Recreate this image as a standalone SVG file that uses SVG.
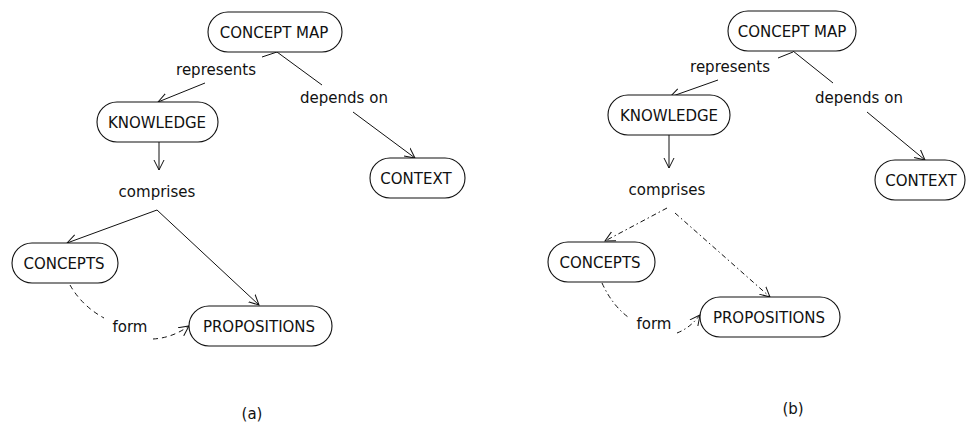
<svg xmlns="http://www.w3.org/2000/svg" width="966" height="428" viewBox="0 0 966 428">
<style>
.node rect{fill:#fff;stroke:#111;stroke-width:1.1}
text{font-family:"DejaVu Sans","Liberation Sans",sans-serif;font-size:15px;fill:#111;text-anchor:middle}
.c path{fill:none;stroke:#111;stroke-width:1}
.c .dash{stroke-dasharray:5,4}
.c .dd{stroke-dasharray:5,3,1.5,3}
</style>
<defs>
<marker id="ah" markerUnits="userSpaceOnUse" markerWidth="12" markerHeight="12" refX="10" refY="5" orient="auto" viewBox="0 0 12 10">
<path d="M0,0 L10,5 L0,10" fill="none" stroke="#111" stroke-width="1"/>
</marker>
</defs>
<rect width="966" height="428" fill="#fff"/>
<g class="c" id="connectors">
<path d="M262,57 L277,52"/>
<path d="M205,83 L158,102" marker-end="url(#ah)"/>
<path d="M277,52 L322,85"/>
<path d="M353,112 L415,158" marker-end="url(#ah)"/>
<path d="M159,142 L159,170" marker-end="url(#ah)"/>
<path d="M157,210 L67,243" marker-end="url(#ah)"/>
<path d="M157,210 L259,305" marker-end="url(#ah)"/>
<path class="dash" d="M70,285 Q82,306 104,318"/>
<path class="dash" d="M153,339 Q172,338 189,326" marker-end="url(#ah)"/>
<path d="M778,58 L793,52"/>
<path d="M718,80 L670,97" marker-end="url(#ah)"/>
<path d="M793,51 L833,83"/>
<path d="M867,112 L925,160" marker-end="url(#ah)"/>
<path d="M669,135 L669,168" marker-end="url(#ah)"/>
<path class="dd" d="M667,208 L605,241" marker-end="url(#ah)"/>
<path class="dd" d="M675,213 L770,297" marker-end="url(#ah)"/>
<path class="dd" d="M602,283 Q612,305 628,317"/>
<path class="dd" d="M677,333 Q690,328 700,315" marker-end="url(#ah)"/>
</g>
<g id="labels">
<text x="216" y="75">represents</text>
<text x="344" y="103">depends on</text>
<text x="157" y="197">comprises</text>
<text x="130" y="332">form</text>
<text x="730" y="72">represents</text>
<text x="859" y="103">depends on</text>
<text x="667" y="195">comprises</text>
<text x="654" y="329">form</text>
<text x="252" y="419">(a)</text>
<text x="793" y="414">(b)</text>
</g>
<g class="node" id="a-concept-map"><rect x="208" y="12" width="134" height="40" rx="20"/><text x="274" y="38">CONCEPT MAP</text></g>
<g class="node" id="a-knowledge"><rect x="97" y="102" width="121" height="40" rx="20"/><text x="157" y="128">KNOWLEDGE</text></g>
<g class="node" id="a-context"><rect x="370" y="158" width="95" height="40" rx="20"/><text x="416" y="184">CONTEXT</text></g>
<g class="node" id="a-concepts"><rect x="12" y="243" width="106" height="40" rx="20"/><text x="64" y="269">CONCEPTS</text></g>
<g class="node" id="a-propositions"><rect x="189" y="306" width="143" height="40" rx="20"/><text x="259" y="332">PROPOSITIONS</text></g>
<g class="node" id="b-concept-map"><rect x="728" y="11" width="128" height="40" rx="20"/><text x="792" y="37">CONCEPT MAP</text></g>
<g class="node" id="b-knowledge"><rect x="608" y="95" width="122" height="40" rx="20"/><text x="669" y="121">KNOWLEDGE</text></g>
<g class="node" id="b-context"><rect x="875" y="160" width="90" height="40" rx="20"/><text x="921" y="186">CONTEXT</text></g>
<g class="node" id="b-concepts"><rect x="548" y="242" width="107" height="40" rx="20"/><text x="600" y="268">CONCEPTS</text></g>
<g class="node" id="b-propositions"><rect x="700" y="297" width="140" height="40" rx="20"/><text x="769" y="323">PROPOSITIONS</text></g>
</svg>
